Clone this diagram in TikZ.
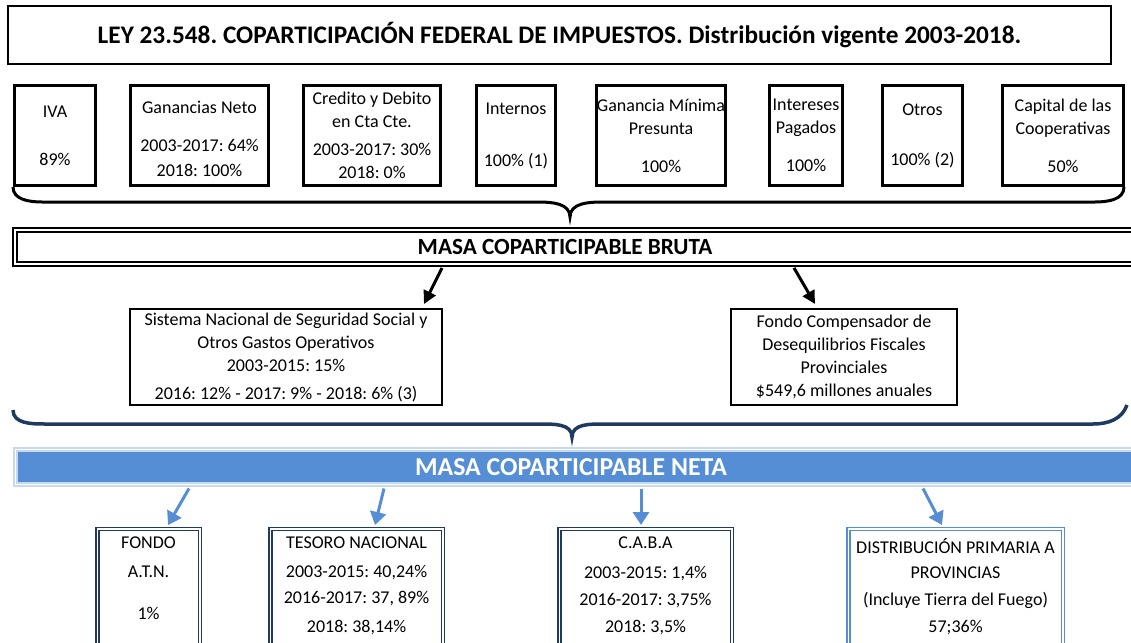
\documentclass[tikz,border=0pt]{standalone}
\usepackage{fontspec}
\setmainfont{Carlito}
\usetikzlibrary{positioning,arrows.meta}
\frenchspacing

\definecolor{navy}{HTML}{1F3A60}
\definecolor{barblue}{HTML}{558ED5}
\definecolor{lightblue}{HTML}{C6D9F1}
\newcommand{\bodyfont}{\fontsize{18}{23}\selectfont}

\tikzset{
  headbox/.style={draw, line width=2pt, minimum width=1103pt, minimum height=58pt,
    font=\fontsize{25.3}{30}\selectfont\bfseries},
  tax/.style={draw, line width=3pt, minimum height=100pt, align=center, inner sep=0pt, font=\bodyfont},
  massbar/.style={draw, line width=1.8pt, double, double distance=2.5pt,
    minimum width=1122pt, minimum height=34pt, inner sep=0pt},
  netbar/.style={draw=lightblue, line width=2pt, double=white, double distance=1pt, fill=barblue,
    minimum width=1122pt, minimum height=35pt, inner sep=0pt},
  bartext/.style={anchor=center, inner sep=0pt},
  fund/.style={draw, line width=2pt, minimum height=96pt, align=center, inner sep=0pt, font=\bodyfont},
  share/.style={draw=navy, line width=1.5pt, double, double distance=1.5pt,
    minimum height=130pt, anchor=north},
  sharetext/.style={anchor=north, yshift=-9pt, align=center, inner sep=0pt, font=\bodyfont},
  flow/.style={line width=3pt, -{Triangle[length=13pt,width=13pt]}},
  netflow/.style={barblue, line width=3pt, -{Triangle[length=13pt,width=16pt]}}
}

\begin{document}
\begin{tikzpicture}[x=1pt,y=-1pt]
\useasboundingbox (0,0) rectangle (1131,642);
\clip (0,0) rectangle (1131,642);

\node[headbox] (head) at (559.5,35) {LEY 23.548. COPARTICIPACIÓN FEDERAL DE IMPUESTOS. Distribución vigente 2003-2018.};

\node[tax, minimum width=81pt]  (t0) at (55,135.5)   {IVA\\[25pt]89\%};
\node[tax, minimum width=138pt] (t1) at (199.5,135.5) {\rule{0pt}{20pt}Ganancias Neto\\[15pt]2003-2017: 64\%\\[2pt]2018: 100\%};
\node[tax, minimum width=137pt] (t2) at (372,135.5)  {Credito y Debito\\en Cta Cte.\\[5pt]2003-2017: 30\%\\2018: 0\%};
\node[tax, minimum width=79pt]  (t3) at (516,135.5)  {Internos\\[29pt]100\% (1)};
\node[tax, minimum width=129pt] (t4) at (661,135.5)  {Ganancia Mínima\\Presunta\\[15pt]100\%};
\node[tax, minimum width=73pt]  (t5) at (806,135.5)  {Intereses\\Pagados\\[15pt]100\%};
\node[tax, minimum width=80pt]  (t6) at (922.5,135.5) {Otros\\[27pt]100\% (2)};
\node[tax, minimum width=121pt] (t7) at (1063,135.5) {Capital de las\\Cooperativas\\[15pt]50\%};

\draw[line width=3pt] (13,187) to[out=-90,in=180] (42,202) -- (538,202)
  to[out=0,in=90] (570,217) to[out=90,in=180] (602,202) -- (1095,202) to[out=0,in=-90] (1124,187);

\node[massbar, label={[bartext, xshift=-11pt, font=\fontsize{23.2}{27}\selectfont\bfseries]center:MASA COPARTICIPABLE BRUTA}] (bruta) at (576,247) {};

\node[fund, minimum width=312pt] (ss) at (286,357) {Sistema Nacional de Seguridad Social y\\Otros Gastos Operativos\\2003-2015: 15\%\\[5pt]2016: 12\% - 2017: 9\% - 2018: 6\% (3)};
\node[fund, minimum width=226pt] (fc) at (844,357) {Fondo Compensador de\\Desequilibrios Fiscales\\Provinciales\\\$549,6 millones anuales};

\draw[flow] ([xshift=-134pt,yshift=-3pt]bruta.south) -- ([xshift=138pt,yshift=4pt]ss.north);
\draw[flow] ([xshift=218pt,yshift=-3pt]bruta.south) -- ([xshift=-29pt,yshift=4pt]fc.north);

\draw[navy, line width=3.5pt] (13,410) to[out=-90,in=180] (45,424) -- (540,424)
  to[out=0,in=90] (572,437) to[out=90,in=180] (604,424) -- (1093,424) to[out=0,in=-110] (1127,405);

\node[netbar, label={[bartext, xshift=-5pt, text=white, font=\fontsize{25.8}{30}\selectfont\bfseries]center:MASA COPARTICIPABLE NETA}] (neta) at (576,467) {};

\node[share, minimum width=102.5pt, label={[sharetext]north:{FONDO\\[6pt]A.T.N.\\[19pt]1\%}}] (atn) at (148.5,528) {};
\node[share, minimum width=172.5pt, label={[sharetext]north:{TESORO NACIONAL\\[6pt]2003-2015: 40,24\%\\[3pt]2016-2017: 37, 89\%\\[6pt]2018: 38,14\%}}] (tesoro) at (356.5,528) {};
\node[share, minimum width=172.5pt, label={[sharetext]north:{C.A.B.A\\[7pt]2003-2015: 1,4\%\\[4pt]2016-2017: 3,75\%\\[4pt]2018: 3,5\%}}] (caba) at (645.5,528) {};
\node[share, draw=barblue, minimum width=214.5pt, label={[sharetext, yshift=-1.5pt]north:{DISTRIBUCIÓN PRIMARIA A\\[2pt]PROVINCIAS\\[4pt](Incluye Tierra del Fuego)\\[4pt]57;36\%}}] (dist) at (955.5,528) {};

\draw[netflow] ([xshift=-387pt,yshift=-3pt]neta.south) -- ([xshift=19.5pt,yshift=3pt]atn.north);
\draw[netflow] ([xshift=-192pt,yshift=-3pt]neta.south) -- ([xshift=18.5pt,yshift=3pt]tesoro.north);
\draw[netflow] ([xshift=65pt,yshift=-3pt]neta.south) -- ([xshift=-4.5pt,yshift=3pt]caba.north);
\draw[netflow] ([xshift=347pt,yshift=-3pt]neta.south) -- ([xshift=-13.5pt,yshift=3pt]dist.north);
\end{tikzpicture}
\end{document}
